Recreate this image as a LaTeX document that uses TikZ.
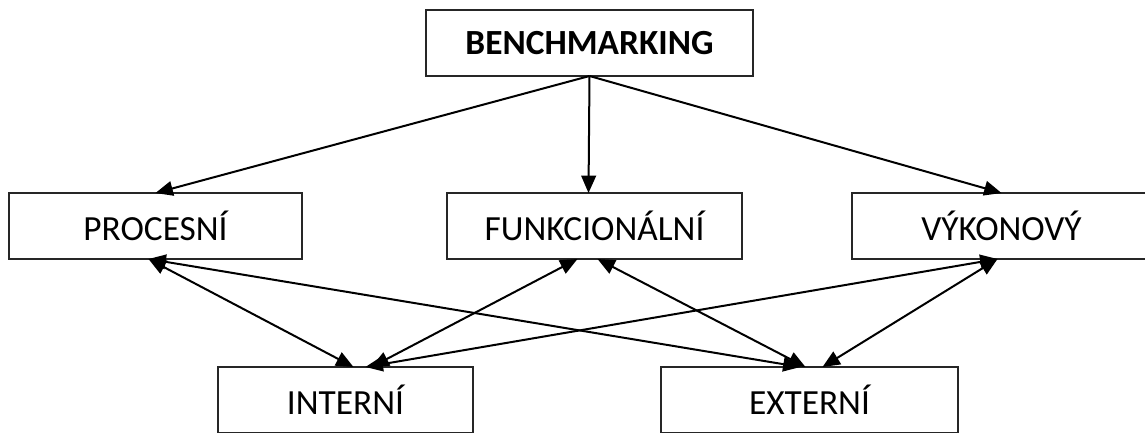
\documentclass[tikz,border=0pt]{standalone}
\usepackage{fontspec}
\setmainfont{Carlito}
\usetikzlibrary{arrows.meta,calc}

\begin{document}
\begin{tikzpicture}[
  x=0.75pt, y=-0.75pt,
  label font/.style={font=\fontsize{26.5}{31}\selectfont},
  box/.style={draw=black!85, line width=1.5pt, minimum height=49.5pt,
    inner sep=0pt, outer sep=0pt, label font},
  one/.style={line width=1.5pt, -{Triangle[length=13pt,width=11pt]}},
  both/.style={line width=1.5pt,
    {Triangle[length=13pt,width=11pt]}-{Triangle[length=13pt,width=11pt]}}
]
\useasboundingbox (0,0) rectangle (1145,432);
\clip (0,0) rectangle (1145,432);

% boxes
\node[box, minimum width=245.25pt, font=\fontsize{26.5}{31}\selectfont\bfseries]
  (bench) at (589.5,43) {BENCHMARKING};
\node[box, minimum width=219.75pt] (proc) at (155.5,226) {PROCESNÍ};
\node[box, minimum width=221.25pt] (funk) at (594.5,226) {FUNKCIONÁLNÍ};
\node[box, minimum width=225pt] (vyk)  at (1001.5,226) {VÝKONOVÝ};
\node[box, minimum width=191.25pt] (intern) at (345.5,400) {INTERNÍ};
\node[box, minimum width=222.75pt] (extern) at (809.5,400) {EXTERNÍ};

% benchmarking to its three kinds
\draw[one] (bench.south) -- (proc.north);
\draw[one] (bench.south) -- ($(funk.north)+(-6,0)$);
\draw[one] (bench.south) -- (vyk.north);

% kinds to internal / external
\draw[both] ($(proc.south)+(-7,0)$) -- ($(intern.north)+(8,0)$);
\draw[both] ($(proc.south)+(-7,0)$) -- ($(extern.north)+(-9,0)$);
\draw[both] ($(funk.south)+(-17,0)$) -- ($(intern.north)+(26,0)$);
\draw[both] ($(funk.south)+(3,0)$) -- ($(extern.north)+(-4,0)$);
\draw[both] ($(vyk.south)+(-4,0)$) -- ($(intern.north)+(20,0)$);
\draw[both] ($(vyk.south)+(-4,0)$) -- ($(extern.north)+(13,0)$);
\end{tikzpicture}
\end{document}
